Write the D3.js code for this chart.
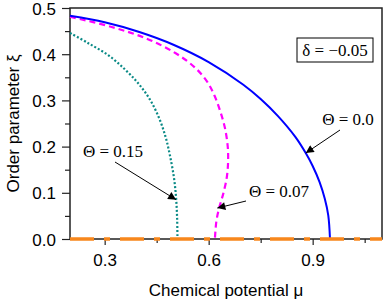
<!DOCTYPE html>
<html>
<head>
<meta charset="utf-8">
<script src="https://cdn.jsdelivr.net/npm/d3@7"></script>
<style>
  html, body { margin: 0; padding: 0; background: #fff; }
  svg text { fill: #000; }
  .axis-title { font-family: "Liberation Sans", Arial, sans-serif; font-size: 17px; }
  .note { font-family: "Liberation Serif", "Times New Roman", serif; font-size: 17px; }
</style>
</head>
<body>
<svg id="chart" width="384" height="302"></svg>
<script>
// Θ = 0.0 (blue, solid)
const muTheta00 = [0.2, 0.3, 0.4, 0.5, 0.6, 0.7, 0.75, 0.8, 0.85, 0.88, 0.9, 0.92, 0.935, 0.945, 0.95];
const xiTheta00 = [0.483, 0.469, 0.448, 0.42, 0.383, 0.334, 0.303, 0.266, 0.221, 0.186, 0.158, 0.123, 0.087, 0.051, 0.0];

// Θ = 0.07 (magenta, dashed) - bends back near the bottom
const muTheta007 = [0.2, 0.32, 0.42, 0.505, 0.562, 0.596, 0.617, 0.634, 0.647, 0.655, 0.656, 0.652, 0.641, 0.63, 0.622, 0.618];
const xiTheta007 = [0.481, 0.459, 0.434, 0.402, 0.37, 0.34, 0.31, 0.275, 0.24, 0.2, 0.167, 0.132, 0.095, 0.067, 0.037, 0.0];

// Θ = 0.15 (teal, dotted)
const muTheta015 = [0.2, 0.25, 0.31, 0.36, 0.4, 0.432, 0.458, 0.476, 0.488, 0.5, 0.506, 0.509, 0.51];
const xiTheta015 = [0.446, 0.425, 0.398, 0.366, 0.334, 0.3, 0.26, 0.22, 0.182, 0.132, 0.089, 0.045, 0.0];

// trivial solution ξ = 0 (orange, dash-dot)
const muZero = [0.2, 1.1];
const xiZero = [0.0, 0.0];

const xTicks = [0.3, 0.6, 0.9];
const xMinorTicks = [0.45, 0.75, 1.05];
const yTicks = [0.0, 0.1, 0.2, 0.3, 0.4, 0.5];
const yMinorTicks = [0.05, 0.15, 0.25, 0.35, 0.45];

const margin = { top: 8, right: 2, bottom: 63, left: 70 };
const width = 384, height = 302;

const svg = d3.select("#chart");
const x = d3.scaleLinear().domain([0.2, 1.1]).range([margin.left, width - margin.right]);
const y = d3.scaleLinear().domain([0, 0.5]).range([height - margin.bottom, margin.top]);

const zip = (a, b) => a.map((v, i) => [v, b[i]]);

/**
 * axes
 */
function drawAxes() {
  const xAxis = svg.append("g")
    .attr("transform", `translate(0,${y(0)})`)
    .call(d3.axisBottom(x).tickValues(xTicks).tickSize(6).tickSizeOuter(0).tickFormat(d3.format(".1f")));
  xAxis.selectAll("text").attr("dy", "1.05em");
  svg.append("g")
    .attr("transform", `translate(0,${y(0)})`)
    .call(d3.axisBottom(x).tickValues(xMinorTicks).tickSize(4).tickSizeOuter(0).tickFormat(""));

  const yAxis = svg.append("g")
    .attr("transform", `translate(${x(0.2)},0)`)
    .call(d3.axisLeft(y).tickValues(yTicks).tickSize(8).tickSizeOuter(0).tickFormat(d3.format(".1f")));
  yAxis.selectAll("text").attr("x", -14).attr("dy", "0.36em");
  svg.append("g")
    .attr("transform", `translate(${x(0.2)},0)`)
    .call(d3.axisLeft(y).tickValues(yMinorTicks).tickSize(5).tickSizeOuter(0).tickFormat(""));

  svg.selectAll(".domain").remove();
  svg.selectAll(".tick line").attr("stroke", "#222").attr("stroke-width", 1.2);
  svg.selectAll(".tick text")
    .attr("fill", "#000")
    .style("font-family", "'Liberation Sans', Arial, sans-serif")
    .style("font-size", "17px");

  // 枠
  svg.append("rect")
    .attr("x", x(0.2)).attr("y", y(0.5))
    .attr("width", x(1.1) - x(0.2)).attr("height", y(0) - y(0.5))
    .attr("fill", "none").attr("stroke", "#222").attr("stroke-width", 1.5);

  svg.append("text")
    .attr("class", "axis-title")
    .attr("x", (x(0.2) + x(1.1)) / 2).attr("y", 296)
    .attr("text-anchor", "middle")
    .text("Chemical potential μ");

  svg.append("text")
    .attr("class", "axis-title")
    .attr("transform", `translate(19,${(y(0) + y(0.5)) / 2}) rotate(-90)`)
    .attr("text-anchor", "middle")
    .text("Order parameter ξ");
}

/**
 * curves
 */
function drawCurves() {
  const line = d3.line().x((d) => x(d[0])).y((d) => y(d[1])).curve(d3.curveCatmullRom.alpha(0.5));
  const gCurves = svg.append("g");

  gCurves.append("path")
    .datum(zip(muTheta015, xiTheta015))
    .attr("d", line)
    .attr("fill", "none").attr("stroke", "#0a8a86").attr("stroke-width", 2.2)
    .attr("stroke-dasharray", "2,2");

  gCurves.append("path")
    .datum(zip(muTheta007, xiTheta007))
    .attr("d", line)
    .attr("fill", "none").attr("stroke", "#ff00ff").attr("stroke-width", 2.2)
    .attr("stroke-dasharray", "6,4");

  gCurves.append("path")
    .datum(zip(muTheta00, xiTheta00))
    .attr("d", line)
    .attr("fill", "none").attr("stroke", "#0000ff").attr("stroke-width", 2);

  // ξ = 0 の線は軸の上に重ねる
  gCurves.append("path")
    .datum(zip(muZero, xiZero))
    .attr("d", line)
    .attr("fill", "none").attr("stroke", "#f7871c").attr("stroke-width", 3.5)
    .attr("stroke-dasharray", "24,10,6,10");
}

/**
 * labels and arrows
 */
function drawNotes() {
  svg.append("defs").append("marker")
    .attr("id", "arrow")
    .attr("viewBox", "0 0 10 10")
    .attr("refX", 10).attr("refY", 5)
    .attr("markerWidth", 10).attr("markerHeight", 8)
    .attr("markerUnits", "userSpaceOnUse")
    .attr("orient", "auto")
    .append("path").attr("d", "M0,0 L10,5 L0,10 z").attr("fill", "#000");

  const arrows = [
    { x1: 340, y1: 130, x2: x(0.88), y2: y(0.186) },
    { x1: 115, y1: 162, x2: x(0.506), y2: y(0.085) },
    { x1: 246, y1: 201, x2: x(0.625), y2: y(0.067) },
  ];
  svg.selectAll("line.arrow")
    .data(arrows)
    .join("line")
    .attr("class", "arrow")
    .attr("x1", (d) => d.x1).attr("y1", (d) => d.y1)
    .attr("x2", (d) => d.x2).attr("y2", (d) => d.y2)
    .attr("stroke", "#000").attr("stroke-width", 1)
    .attr("marker-end", "url(#arrow)");

  const notes = [
    { x: 348, y: 125, text: "Θ = 0.0" },
    { x: 113, y: 157, text: "Θ = 0.15" },
    { x: 279, y: 197, text: "Θ = 0.07" },
  ];
  svg.selectAll("text.note-lbl")
    .data(notes)
    .join("text")
    .attr("class", "note note-lbl")
    .attr("x", (d) => d.x).attr("y", (d) => d.y)
    .attr("text-anchor", "middle")
    .text((d) => d.text);

  svg.append("rect")
    .attr("x", 297).attr("y", 38).attr("width", 76).attr("height", 24)
    .attr("fill", "#fff").attr("stroke", "#000").attr("stroke-width", 1);
  svg.append("text")
    .attr("class", "note")
    .attr("x", 335).attr("y", 56)
    .attr("text-anchor", "middle")
    .text("δ = −0.05");
}

drawAxes();
drawCurves();
drawNotes();
</script>
</body>
</html>
